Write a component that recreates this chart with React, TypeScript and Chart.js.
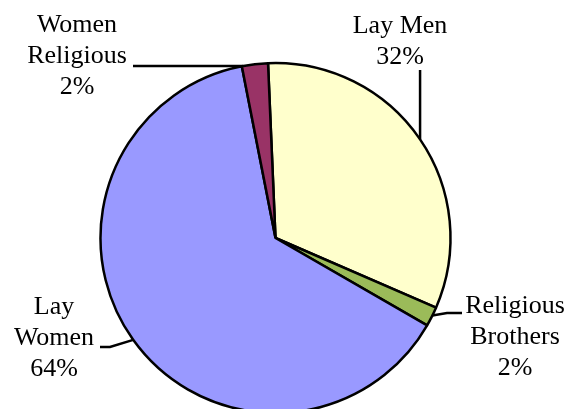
import React, { useEffect, useRef } from "react";
import { Chart, registerables } from "chart.js";

Chart.register(...registerables);

const categories = ["Lay Men", "Religious Brothers", "Lay Women", "Women Religious"];
const values = [32.2, 1.8, 63.6, 2.4];
const colors = ["#FFFFCC", "#9BBB59", "#9999FF", "#993366"];
const labelLines = [["Lay Men"], ["Religious", "Brothers"], ["Lay", "Women"], ["Women", "Religious"]];

const FONT = '26px "Liberation Serif", "Times New Roman", serif';

const labelPlugin = {
  id: "pieLabels",
  afterDatasetsDraw(chart: any) {
    const ctx = chart.ctx;
    const meta = chart.getDatasetMeta(0);
    const arc = meta.data[0];
    if (!arc) return;
    const cx = arc.x, cy = arc.y, r = arc.outerRadius;
    const edge = (deg: number) => {
      const a = (deg * Math.PI) / 180;
      return { x: cx + r * Math.cos(a), y: cy + r * Math.sin(a) };
    };
    const total = values.reduce((s, v) => s + v, 0);
    const pct = values.map((v) => Math.round((v / total) * 100) + "%");

    // layout: text centre x, first line centre y, leader geometry
    const layout = [
      { x: 400, y: 26, line: (() => { const e = edge(-34.3); return [[e.x, 70], [e.x, e.y]]; })() },
      { x: 515, y: 306, line: (() => { const e = edge(26.3); return [[e.x, e.y], [447, 313], [462, 313]]; })() },
      { x: 54, y: 307, line: (() => { const e = edge(144.4); return [[e.x, e.y], [110, 347], [100, 347]]; })() },
      { x: 77, y: 25, line: (() => { const e = edge(-100.6); return [[133, e.y], [e.x, e.y]]; })() },
    ];

    ctx.save();
    ctx.font = FONT;
    ctx.fillStyle = "#000";
    ctx.textAlign = "center";
    ctx.textBaseline = "middle";
    const lh = 31;
    layout.forEach((l, i) => {
      const lines = [...labelLines[i], pct[i]];
      lines.forEach((t, j) => ctx.fillText(t, l.x, l.y + j * lh));
      ctx.beginPath();
      ctx.lineWidth = 2.5;
      ctx.strokeStyle = "#000";
      l.line.forEach((p: number[], k: number) => (k === 0 ? ctx.moveTo(p[0], p[1]) : ctx.lineTo(p[0], p[1])));
      ctx.stroke();
    });
    ctx.restore();
  },
};

export default function App() {
  const ref = useRef<HTMLCanvasElement>(null);
  useEffect(() => {
    if (!ref.current) return;
    const chart = new Chart(ref.current, {
      type: "pie",
      data: {
        labels: categories,
        datasets: [
          {
            data: values,
            backgroundColor: colors,
            borderColor: "#000",
            borderWidth: 2.5,
            radius: 175,
            clip: false,
          } as any,
        ],
      },
      options: {
        animation: false,
        responsive: false,
        rotation: -2.45,
        layout: { padding: { left: 100, right: 118, top: 67, bottom: 0 } },
        plugins: { legend: { display: false }, tooltip: { enabled: false } },
      },
      plugins: [labelPlugin],
    });
    return () => chart.destroy();
  }, []);
  return (
    <div style={{ position: "absolute", left: 0, top: 0, width: 569, height: 409, background: "#fff" }}>
      <canvas ref={ref} width={569} height={409} style={{ display: "block" }} />
    </div>
  );
}
